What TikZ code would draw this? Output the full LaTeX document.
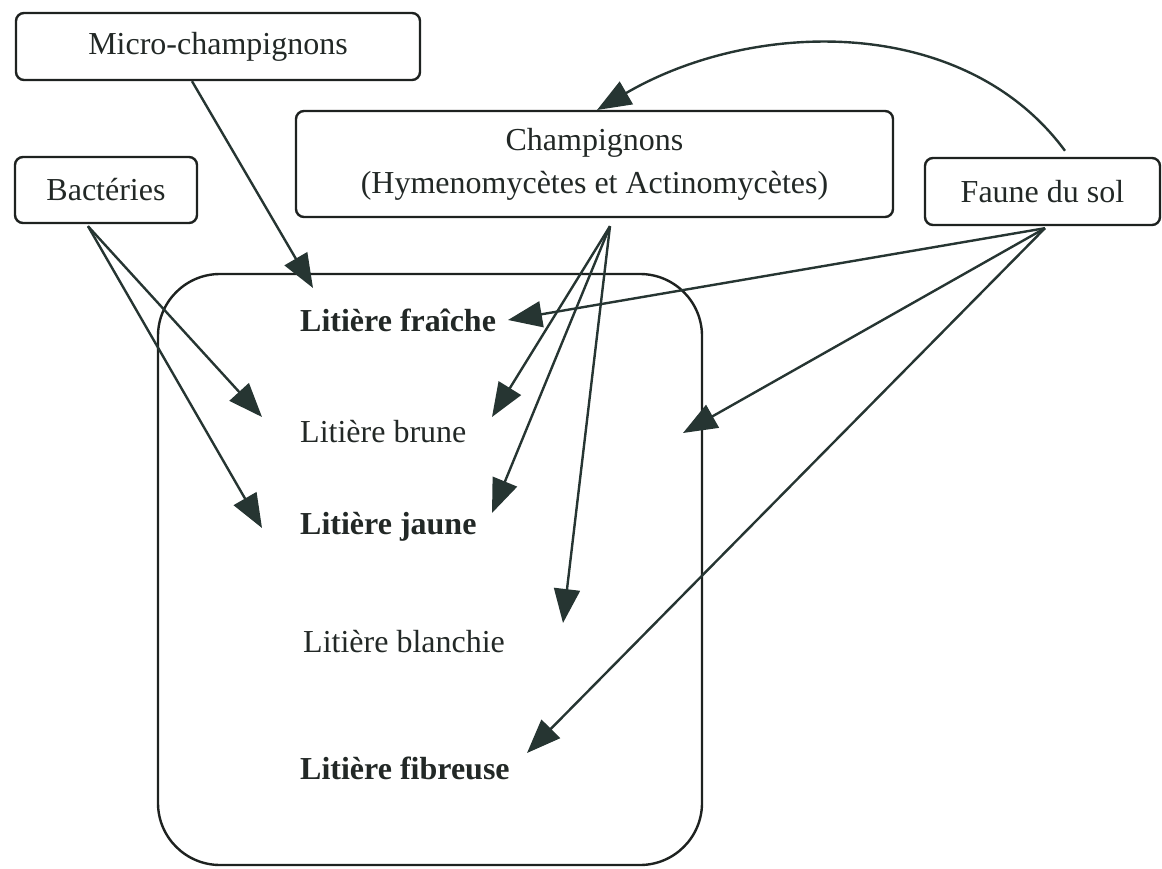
\documentclass[tikz,border=0pt]{standalone}
\usepackage{fontspec}
\setmainfont{Liberation Serif}
\usetikzlibrary{arrows.meta}
\definecolor{ink}{HTML}{263532}
\definecolor{boxline}{HTML}{1E2220}
\definecolor{txt}{HTML}{222826}
\begin{document}
\begin{tikzpicture}[x=1pt,y=-1pt,
  box/.style={draw=boxline, line width=2.4pt, rounded corners=8pt, inner sep=0pt,
    font=\fontsize{32}{43}\selectfont, text=txt, align=center},
  lab/.style={inner sep=0pt, anchor=west, font=\fontsize{32}{38}\selectfont, text=txt},
  blab/.style={lab, font=\fontsize{32}{38}\selectfont\bfseries},
  arr/.style={draw=ink, line width=2.4pt, -{Triangle[length=34pt,width=26pt]}}]
\useasboundingbox (0,0) rectangle (1162,869);

% boxes
\node[box, minimum width=404pt, minimum height=67pt] (micro) at (218,46.5) {Micro-champignons};
\node[box, minimum width=182pt, minimum height=66pt] (bact) at (106,190) {Bactéries};
\node[box, minimum width=597pt, minimum height=106pt] (champ) at (594.5,164) {Champignons\\(Hymenomycètes et Actinomycètes)};
\node[box, minimum width=235pt, minimum height=67pt] (faune) at (1042.5,191.5) {Faune du sol};

% litter container
\node[draw=boxline, line width=2.4pt, rounded corners=62pt, minimum width=544pt, minimum height=591pt, inner sep=0pt] (litter) at (430,569.5) {};

% litter labels
\node[blab] (fraiche) at (300,320) {Litière fraîche};
\node[lab] (brune) at (300,432) {Litière brune};
\node[blab] (jaune) at (300,527) {Litière jaune};
\node[lab] (blanchie) at (303,642) {Litière blanchie};
\node[blab] (fibreuse) at (300,768) {Litière fibreuse};

% arrow tips
\coordinate (tMicro) at (313,288);
\coordinate (tB1) at (262,417);
\coordinate (tB2) at (262,528);
\coordinate (tC1) at (492,417);
\coordinate (tC2) at (492,513);
\coordinate (tC3) at (563,623);
\coordinate (tF1) at (508,320);
\coordinate (tF2) at (683,433);
\coordinate (tF3) at (527,753);
\coordinate (tCurve) at (597,110);

% connectors
\draw[arr] ([xshift=-26pt]micro.south) -- (tMicro);
\draw[arr] ([xshift=-18pt,yshift=-2pt]bact.south) -- (tB1);
\draw[arr] ([xshift=-18pt,yshift=-2pt]bact.south) -- (tB2);
\draw[arr] ([xshift=15.5pt,yshift=-8pt]champ.south) -- (tC1);
\draw[arr] ([xshift=15.5pt,yshift=-8pt]champ.south) -- (tC2);
\draw[arr] ([xshift=15.5pt,yshift=-8pt]champ.south) -- (tC3);
\draw[arr] ([xshift=2.5pt,yshift=-2pt]faune.south) -- (tF1);
\draw[arr] ([xshift=2.5pt,yshift=-2pt]faune.south) -- (tF2);
\draw[arr] ([xshift=2.5pt,yshift=-2pt]faune.south) -- (tF3);
\draw[arr] ([xshift=22.5pt,yshift=6pt]faune.north) .. controls (965,15) and (755,18) .. (tCurve);
\end{tikzpicture}
\end{document}
